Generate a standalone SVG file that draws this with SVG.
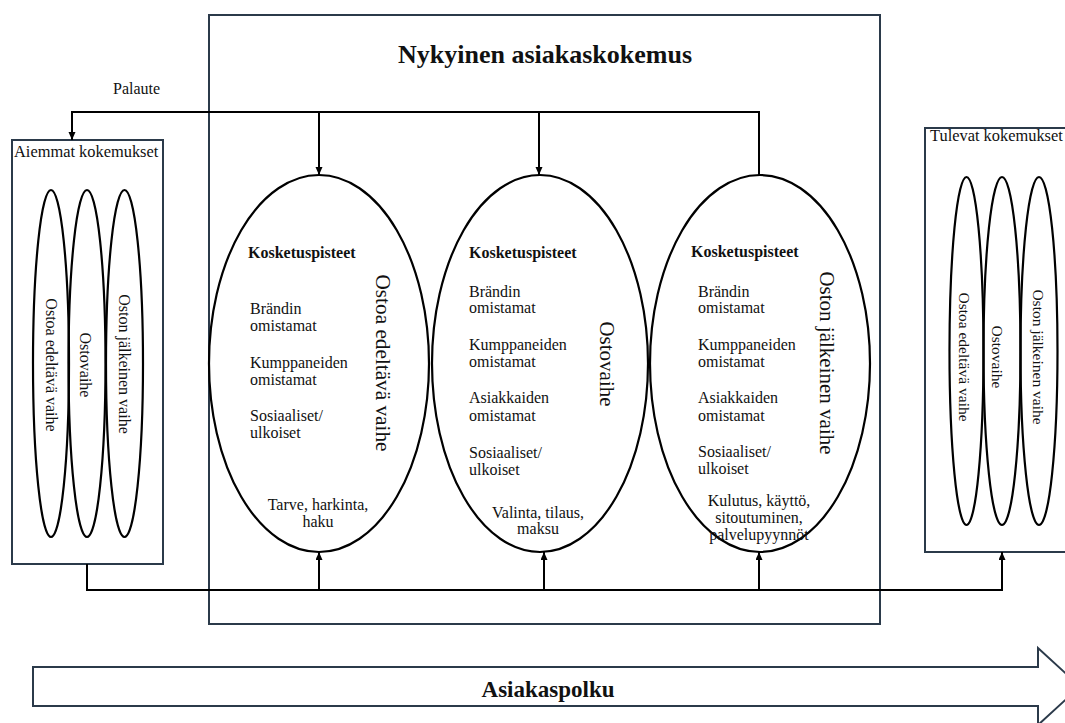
<svg xmlns="http://www.w3.org/2000/svg" width="1065" height="723" viewBox="0 0 1065 723">
<style>
.box{fill:none;stroke:#2b3a4a;stroke-width:2}
.ell{fill:none;stroke:#000;stroke-width:2.2}
.con{fill:none;stroke:#000;stroke-width:2}
.t{font-family:"Liberation Serif","Times New Roman",serif;font-size:16px;fill:#111}
.lbl{font-size:16.4px}
.b{font-weight:bold}
.m{text-anchor:middle}
.v{font-family:"Liberation Serif","Times New Roman",serif;font-size:21px;fill:#111;text-anchor:middle}
.vs{font-family:"Liberation Serif","Times New Roman",serif;font-size:16px;fill:#111;text-anchor:middle}
</style>
<defs>
<marker id="ah" markerUnits="userSpaceOnUse" markerWidth="9" markerHeight="8" refX="8" refY="3.5" orient="auto">
<path d="M0,0 L8,3.5 L0,7 z" fill="#000"/>
</marker>
</defs>
<rect width="1065" height="723" fill="#fff"/>

<g id="main">
<rect class="box" x="209" y="15" width="671" height="609"/>
<text class="t b m" x="545" y="63" style="font-size:26px">Nykyinen asiakaskokemus</text>
</g>

<g id="palaute-label">
<text class="t" x="113" y="94">Palaute</text>
</g>

<g id="aiemmat">
<rect class="box" x="12" y="140" width="151" height="424"/>
<text class="t lbl" x="14" y="157">Aiemmat kokemukset</text>
<ellipse class="ell" cx="51" cy="363.5" rx="18" ry="173.5"/>
<ellipse class="ell" cx="87" cy="363.5" rx="18.5" ry="173.5"/>
<ellipse class="ell" cx="124.5" cy="363.5" rx="18.5" ry="173.5"/>
<text class="vs" transform="translate(46,365) rotate(90)">Ostoa edeltävä vaihe</text>
<text class="vs" transform="translate(80,365) rotate(90)">Ostovaihe</text>
<text class="vs" transform="translate(119,364) rotate(90)">Oston jälkeinen vaihe</text>
</g>

<g id="tulevat">
<rect class="box" x="925" y="128" width="160" height="424"/>
<text class="t lbl" x="930" y="141">Tulevat kokemukset</text>
<ellipse class="ell" cx="966.5" cy="351" rx="17" ry="174"/>
<ellipse class="ell" cx="1002" cy="351" rx="18.5" ry="174"/>
<ellipse class="ell" cx="1039" cy="351" rx="18.5" ry="174"/>
<text class="vs" transform="translate(959,357) rotate(90)" style="font-size:15.5px">Ostoa edeltävä vaihe</text>
<text class="vs" transform="translate(992,357) rotate(90)" style="font-size:15.5px">Ostovaihe</text>
<text class="vs" transform="translate(1033,357) rotate(90)" style="font-size:15.5px">Oston jälkeinen vaihe</text>
</g>

<g id="vaihe1">
<ellipse class="ell" cx="319" cy="363.5" rx="110" ry="188.5"/>
<text class="t b" x="248" y="258">Kosketuspisteet</text>
<text class="t" x="250" y="314">Brändin</text>
<text class="t" x="250" y="331">omistamat</text>
<text class="t" x="250" y="368">Kumppaneiden</text>
<text class="t" x="250" y="385">omistamat</text>
<text class="t" x="250" y="421">Sosiaaliset/</text>
<text class="t" x="250" y="438">ulkoiset</text>
<text class="t m" x="318" y="510">Tarve, harkinta,</text>
<text class="t m" x="318" y="527">haku</text>
<text class="v" transform="translate(376,363) rotate(90)" textLength="177" lengthAdjust="spacingAndGlyphs">Ostoa edeltävä vaihe</text>
</g>

<g id="vaihe2">
<ellipse class="ell" cx="540" cy="363.5" rx="108" ry="188.5"/>
<text class="t b" x="469" y="258">Kosketuspisteet</text>
<text class="t" x="469" y="297">Brändin</text>
<text class="t" x="469" y="313">omistamat</text>
<text class="t" x="469" y="350">Kumppaneiden</text>
<text class="t" x="469" y="367">omistamat</text>
<text class="t" x="469" y="403">Asiakkaiden</text>
<text class="t" x="469" y="421">omistamat</text>
<text class="t" x="469" y="458">Sosiaaliset/</text>
<text class="t" x="469" y="475">ulkoiset</text>
<text class="t m" x="538" y="518">Valinta, tilaus,</text>
<text class="t m" x="538" y="534">maksu</text>
<text class="v" transform="translate(600,364) rotate(90)">Ostovaihe</text>
</g>

<g id="vaihe3">
<ellipse class="ell" cx="760" cy="363.5" rx="110" ry="188.5"/>
<text class="t b" x="691" y="257">Kosketuspisteet</text>
<text class="t" x="698" y="297">Brändin</text>
<text class="t" x="698" y="313">omistamat</text>
<text class="t" x="698" y="350">Kumppaneiden</text>
<text class="t" x="698" y="367">omistamat</text>
<text class="t" x="698" y="403">Asiakkaiden</text>
<text class="t" x="698" y="421">omistamat</text>
<text class="t" x="698" y="457">Sosiaaliset/</text>
<text class="t" x="698" y="474">ulkoiset</text>
<text class="t m" x="759" y="506">Kulutus, käyttö,</text>
<text class="t m" x="759" y="523">sitoutuminen,</text>
<text class="t m" x="759" y="540">palvelupyynnöt</text>
<text class="v" transform="translate(820,363) rotate(90)">Oston jälkeinen vaihe</text>
</g>

<g id="connectors">
<path class="con" d="M759,175 V112 H72 V140" marker-end="url(#ah)"/>
<path class="con" d="M319,112 V175" marker-end="url(#ah)"/>
<path class="con" d="M539,112 V175" marker-end="url(#ah)"/>
<path class="con" d="M87,564 V590 H1002 V552" marker-end="url(#ah)"/>
<path class="con" d="M319,590 V552" marker-end="url(#ah)"/>
<path class="con" d="M544,590 V552" marker-end="url(#ah)"/>
<path class="con" d="M759,590 V552" marker-end="url(#ah)"/>
</g>

<g id="asiakaspolku">
<polygon class="box" points="33,667 1038,667 1038,648 1080,686.5 1038,725 1038,706 33,706" style="fill:#fff"/>
<text class="t b m" x="548" y="697" style="font-size:23px">Asiakaspolku</text>
</g>
</svg>
